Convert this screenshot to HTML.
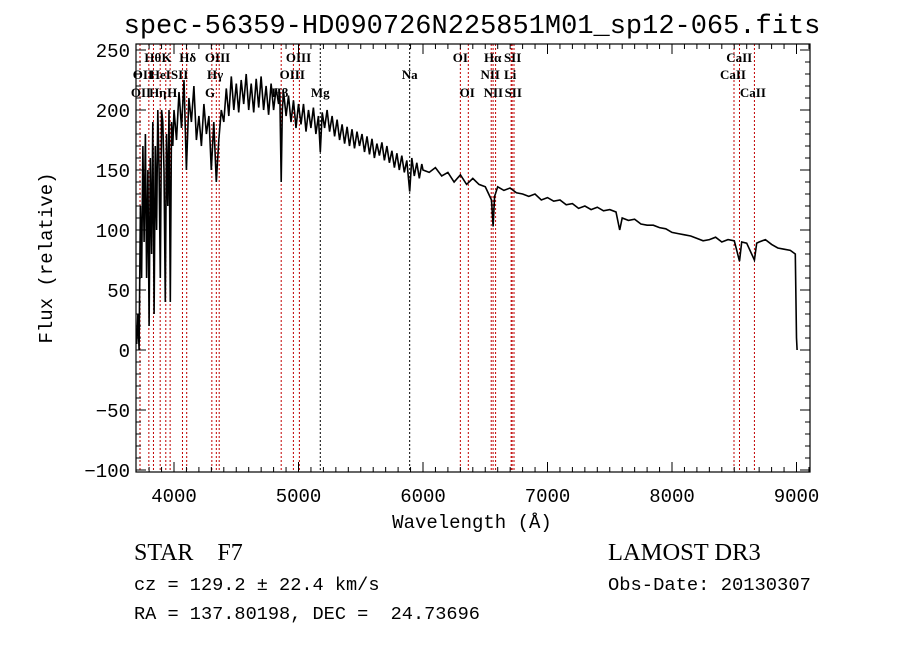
<!DOCTYPE html>
<html><head><meta charset="utf-8">
<style>
html,body{margin:0;padding:0;background:#fff;}
svg{display:block;}
.t{font-family:"Liberation Mono",monospace;fill:#000;}
.s{font-family:"Liberation Serif",serif;fill:#000;}
.ll{font-family:"Liberation Serif",serif;font-weight:bold;font-size:13px;fill:#000;}
</style></head>
<body>
<svg id="chart" width="900" height="649" viewBox="0 0 900 649" xmlns="http://www.w3.org/2000/svg">
<rect width="900" height="649" fill="#fff"/>
<text class="t" x="472" y="33" font-size="27" text-anchor="middle">spec-56359-HD090726N225851M01_sp12-065.fits</text>
<g id="plot"></g>
<text class="t" x="472" y="528" font-size="19" text-anchor="middle">Wavelength (Å)</text>
<text class="t" x="0" y="0" font-size="19" text-anchor="middle" transform="translate(52,258) rotate(-90)">Flux (relative)</text>
<text class="s" x="134" y="560" font-size="24" xml:space="preserve">STAR    F7</text>
<text class="s" x="608" y="560" font-size="24.5">LAMOST DR3</text>
<text class="t" x="134" y="590" font-size="18.6">cz = 129.2 ± 22.4 km/s</text>
<text class="t" x="608" y="590" font-size="18.8">Obs-Date: 20130307</text>
<text class="t" x="134" y="619" font-size="18.6" xml:space="preserve">RA = 137.80198, DEC =  24.73696</text>
</svg>
<script>
const waves=[3700,3710,3720,3730,3740,3750,3760,3770,3780,3790,3800,3810,3820,3830,3840,3850,3860,3870,3880,3890,3900,3910,3920,3930,3940,3950,3960,3970,3980,3990,
4000,4020,4040,4060,4080,4100,4120,4140,4160,4180,4200,4220,4240,4260,4280,4300,4320,4340,4360,4380,
4400,4420,4440,4460,4480,4500,4520,4540,4560,4580,4600,4620,4640,4660,4680,4700,4720,4740,4760,4780,4800,4820,4840,4850,4861,4870,4880,4900,4920,4940,4960,4980,5000,
5020,5040,5060,5080,5100,5120,5140,5160,5175,5190,5210,5230,5250,5270,5290,5310,5330,5350,5370,5390,5410,5430,5450,5470,5490,5510,5530,5550,5570,5590,5610,5630,5650,5670,5690,5710,5730,5750,5770,5790,5810,5830,5850,5870,5893,5910,5930,5950,5970,5990,6000,
6050,6100,6150,6200,6250,6300,6350,6400,6450,6500,6550,6563,6575,6600,6650,6700,6750,6800,6850,6900,6950,7000,7050,7100,7150,7200,7250,7300,7350,7400,7450,7500,7550,7580,7600,7650,7700,7750,7800,7850,7900,7950,8000,8050,8100,8150,8200,8250,8300,8350,8400,8450,8500,8542,8560,8600,8662,8680,8700,8750,8800,8850,8900,8950,8990,9000,9005];
const fluxes=[5,30,0,120,60,170,90,180,60,150,20,160,80,190,30,170,100,200,150,60,200,190,150,40,180,120,200,40,190,170,
200,175,215,185,225,150,210,190,220,175,195,170,205,180,195,150,190,140,175,200,
190,218,195,228,200,222,198,225,205,230,200,222,198,226,202,228,200,220,196,222,200,218,205,215,140,200,215,195,212,190,208,185,205,
188,205,182,200,185,202,180,195,165,198,185,200,182,195,178,192,175,188,172,186,170,184,168,182,170,180,165,178,163,176,160,172,162,173,158,170,156,166,152,164,150,162,148,158,132,160,145,156,143,155,150,
148,152,145,148,140,146,138,143,138,136,125,103,128,136,133,135,131,130,128,130,125,127,124,125,121,122,118,120,117,119,116,117,115,100,110,108,109,105,104,104,102,101,98,97,96,95,93,91,92,94,90,92,91,74,90,89,75,89,90,92,88,85,84,83,80,10,0];
const lineWaves=[3727,3798,3835,3889,3934,3969,4068,4102,4304,4340,4363,4861,4959,5007,5175,5893,6300,6364,6548,6563,6583,6708,6716,6731,8498,8542,8662];
const lineColors=["r","r","r","r","r","r","r","r","r","r","r","r","r","r","k","k","r","r","r","r","r","r","r","r","r","r","r"];
const labelTexts=["Hθ","K","Hδ","OIII","OIII","OI","Hα","SII","CaII","OII","HeI","SII","Hγ","OIII","Na","NII","Li","CaII","OII","Hη","H","G","Hβ","Mg","OI","NII","SII","CaII"];
const labelWaves=[3830,3940,4110,4350,5000,6300,6560,6720,8540,3750,3890,4045,4330,4950,5893,6540,6700,8490,3735,3870,3985,4290,4850,5175,6355,6565,6725,8650];
const labelRows=[0,0,0,0,0,0,0,0,0,1,1,1,1,1,1,1,1,1,2,2,2,2,2,2,2,2,2,2];
const xTicks=[4000,5000,6000,7000,8000,9000];
const yTicks=[-100,-50,0,50,100,150,200,250];

const L=136,R=810,T=44,B=472;
const xs=w=>174+0.1245*(w-4000);
const ys=v=>350-1.2*v;
const NS="http://www.w3.org/2000/svg";
const g=document.getElementById('plot');
function mk(tag,attrs){const e=document.createElementNS(NS,tag);for(const k in attrs)e.setAttribute(k,attrs[k]);g.appendChild(e);return e;}

lineWaves.forEach((w,i)=>{
  const e=mk('line',{x1:xs(w),x2:xs(w),y1:T,y2:B,stroke:lineColors[i]==="r"?"#c00000":"#000","stroke-width":1,"stroke-dasharray":"2,2"});
  
  
});
const rowY=[62,79,97];
labelTexts.forEach((t,i)=>{
  const e=mk('text',{x:xs(labelWaves[i]),y:rowY[labelRows[i]],"text-anchor":"middle",class:"ll"});
  e.textContent=t;
  
  
});
let d="";
waves.forEach((w,i)=>{d+=(i?"L":"M")+xs(w).toFixed(1)+","+ys(fluxes[i]).toFixed(1);});
const p=mk('path',{d:d,fill:"none",stroke:"#000","stroke-width":1.6,"stroke-linejoin":"miter"});


const fr=mk('rect',{x:L,y:T,width:R-L,height:B-T,fill:"none",stroke:"#000","stroke-width":1.2});


for(let w=3800;w<=9100;w+=100){
  const major=w%1000===0,len=major?10:5,x=xs(w);
  if(x<L||x>R)continue;
  mk('line',{x1:x,x2:x,y1:B,y2:B-len,stroke:"#000"});
  mk('line',{x1:x,x2:x,y1:T,y2:T+len,stroke:"#000"});
}
xTicks.forEach(w=>{
  const e=mk('text',{x:xs(w),y:B+30,"text-anchor":"middle",class:"t","font-size":"19"});
  e.textContent=w;
  
  
});
for(let v=-100;v<=250;v+=10){
  const major=v%50===0,len=major?10:5,y=ys(v);
  mk('line',{x1:L,x2:L+len,y1:y,y2:y,stroke:"#000"});
  mk('line',{x1:R,x2:R-len,y1:y,y2:y,stroke:"#000"});
}
yTicks.forEach(v=>{
  const e=mk('text',{x:L-6,y:ys(v)+7,"text-anchor":"end",class:"t","font-size":"19"});
  e.textContent=v===-100?"\u2212100":(v<0?"\u2212"+(-v):v);
  
  
});
</script>
</body></html>
